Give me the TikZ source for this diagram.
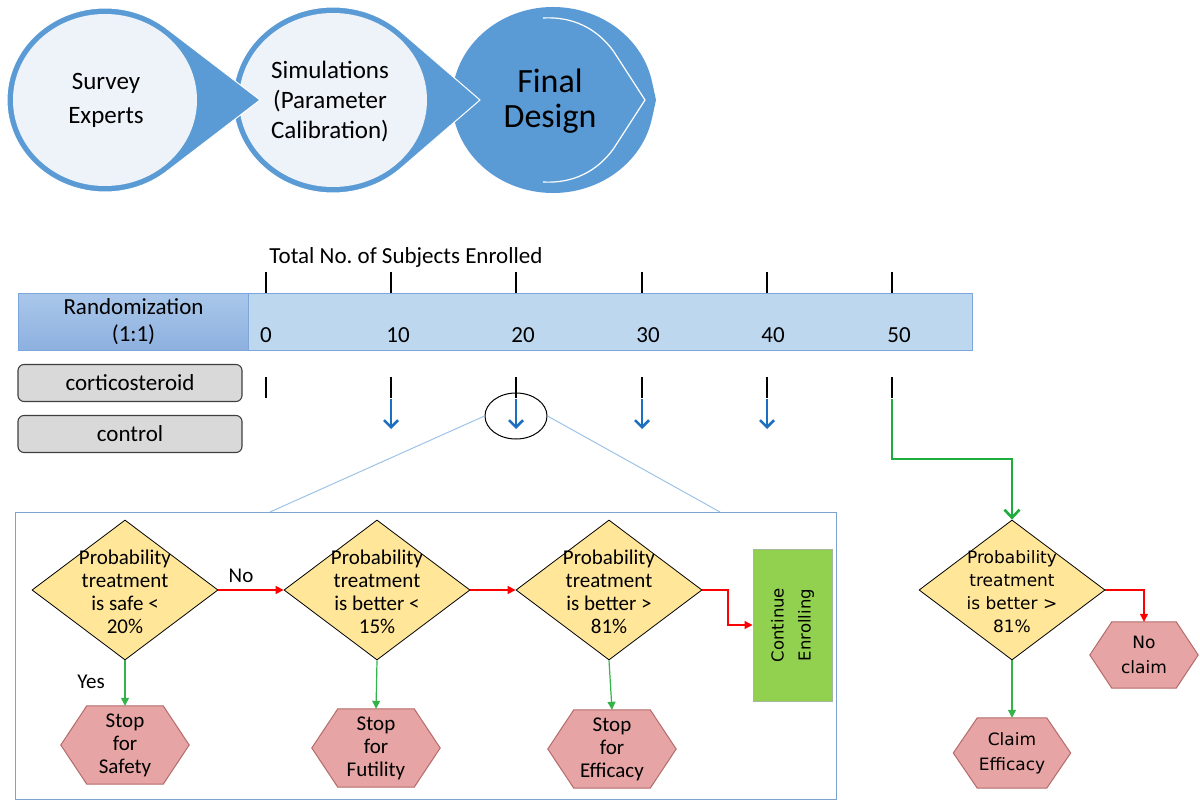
\documentclass[tikz,border=0pt]{standalone}
\usepackage{fontspec}
\setmainfont{Carlito}
\newfontfamily\dejavu{DejaVu Sans}
\usetikzlibrary{shapes.geometric,arrows.meta,calc}
\pgfdeclarelayer{background}
\pgfsetlayers{background,main}
\frenchspacing
\definecolor{tblue}{HTML}{5B9BD5}
\definecolor{tlight}{HTML}{EEF3FA}
\definecolor{barfill}{HTML}{BDD7EE}
\definecolor{barline}{HTML}{7DA7DA}
\definecolor{randtop}{HTML}{A9C7EA}
\definecolor{randbot}{HTML}{8DB0DF}
\definecolor{gbox}{HTML}{D9D9D9}
\definecolor{gline}{HTML}{3F3F3F}
\definecolor{diafill}{HTML}{FFE699}
\definecolor{hexfill}{HTML}{E6A4A4}
\definecolor{hexline}{HTML}{B46A6A}
\definecolor{contfill}{HTML}{92D050}
\definecolor{contline}{HTML}{A6B89A}
\definecolor{arrblue}{HTML}{1F6FC0}
\definecolor{dgreen}{HTML}{1EAD3C}
\definecolor{lgreen}{HTML}{35B24A}
\definecolor{lineblue}{HTML}{9DC3E6}
\definecolor{boxline}{HTML}{7FA3CF}
\newcommand\hexdraw[2]{\begin{pgfonlayer}{background}\draw[hexsty] (#1.west) -- ($(#1.north west)+(#2,0)$) -- ($(#1.north east)+(-#2,0)$) -- (#1.east) -- ($(#1.south east)+(-#2,0)$) -- ($(#1.south west)+(#2,0)$) -- cycle;\end{pgfonlayer}}
\begin{document}
\begin{tikzpicture}[x=1pt,y=-1pt,
  bigtxt/.style={font=\fontsize{25}{34}\selectfont, align=center, inner sep=0},
  simtxt/.style={font=\fontsize{25}{30}\selectfont, align=center, inner sep=0},
  fintxt/.style={font=\fontsize{34}{35}\selectfont, align=center, inner sep=0},
  lbl/.style={font=\fontsize{23}{27}\selectfont, inner sep=0},
  tick/.style={line width=1.2pt, black},
  gray box/.style={draw=gline, line width=1.1pt, fill=gbox, rounded corners=6pt, minimum width=224, minimum height=37, font=\fontsize{23}{27}\selectfont},
  dia/.style={diamond, draw=black, line width=0.8pt, fill=diafill, minimum width=186, minimum height=140, inner sep=0},
  diatxt/.style={font=\fontsize{21}{23}\selectfont, align=center, inner sep=0},
  diatxtR/.style={font=\dejavu\fontsize{17}{23}\selectfont, align=center, inner sep=0},
  hexbox/.style={minimum width=128, minimum height=78, inner sep=0, align=center, font=\fontsize{21}{23}\selectfont},
  hexboxR/.style={inner sep=0, align=center, font=\dejavu\fontsize{17}{25}\selectfont},
  hexsty/.style={draw=hexline, line width=1pt, fill=hexfill},
  redarr/.style={draw=red, line width=1.2pt, -{Triangle[length=8pt,width=8pt]}},
  grnarr/.style={draw=lgreen, line width=1.2pt, -{Triangle[length=8pt,width=8pt]}},
  bluarr/.style={draw=arrblue, line width=2.5pt, -{Straight Barb[length=7pt,width=14pt]}},
  bigarr/.style={draw=dgreen, line width=2.6pt, -{Straight Barb[length=8pt,width=15pt]}}
]
\useasboundingbox (0,0) rectangle (1200,802);

% ---------- top process shapes ----------
% shape 3
\fill[tblue] (656,100) -- ($(553,100)+(11.4:101 and 93)$) arc[start angle=11.4, end angle=348.6, x radius=101, y radius=93] -- cycle;
\draw[white, line width=1.2pt] (543,18) .. controls (580,16) and (602,35) .. (614,52) -- (645,100) -- (614,148) .. controls (602,165) and (580,184) .. (543,182);
% shape 2
\filldraw[fill=tblue, draw=white, line width=1pt] (480,100) -- ($(333,100)+(47.1:100 and 93)$) arc[start angle=47.1, end angle=312.9, x radius=100, y radius=93] -- cycle;
\fill[tlight] (333,100) ellipse [x radius=94, y radius=87];
% shape 1
\filldraw[fill=tblue, draw=white, line width=1pt] (260,100) -- ($(105,100)+(50.8:98 and 92)$) arc[start angle=50.8, end angle=309.2, x radius=98, y radius=92] -- cycle;
\fill[tlight] (105,100) ellipse [x radius=92, y radius=86];

\node[bigtxt] (s1) at (106,100) {Survey\\Experts};
\node[simtxt] (s2) at (330,102) {Simulations\\(Parameter\\Calibration)};
\node[fintxt] (s3) at (550,101) {Final\\Design};

% ---------- timeline ----------
\node[lbl] (total) at (406,257) {Total No. of Subjects Enrolled};
\node[draw=barline, line width=1pt, fill=barfill, minimum width=724, minimum height=57, anchor=north west, inner sep=0] (bar) at (248,293) {};
\node[draw=barline, line width=1pt, top color=randtop, bottom color=randbot, minimum width=230, minimum height=57, anchor=north west, inner sep=0, align=center, font=\fontsize{23}{27}\selectfont] (rand) at (18,293) {Randomization\\(1:1)};
\foreach \x in {266,391,516,642,767,892} {
  \draw[tick] (\x,272) -- (\x,293);
  \draw[tick] (\x,377) -- (\x,398);
}
\foreach \x/\n in {266/0,398/10,523/20,648/30,773/40,899/50}
  \node[lbl] (n\n) at (\x,335) {\n};

\node[gray box] (cort) at (130,383) {corticosteroid};
\node[gray box] (ctrl) at (130,434) {control};

\foreach \x in {391,516,642,767} {
  \coordinate (ba\x) at (\x,399);
  \coordinate (bb\x) at (\x,429);
  \draw[bluarr] (ba\x) -- (bb\x);
}

\node[ellipse, draw=black, line width=1pt, minimum width=62, minimum height=46, inner sep=0] (zc) at (516,416) {};

% ---------- zoomed box ----------
\node[draw=boxline, line width=1.2pt, minimum width=821, minimum height=287, anchor=north west, inner sep=0] (bigbox) at (15,512) {};
\coordinate (bl) at (270,512);
\coordinate (br) at (720,512);
\draw[lineblue, line width=1pt] (zc.west) -- (bl);
\draw[lineblue, line width=1pt] (zc.east) -- (br);

\node[dia] (d1) at (125,590) {};
\node[dia] (d2) at (377,590) {};
\node[dia] (d3) at (609,590) {};
\node[diatxt] (t1) at (125,592) {Probability\\treatment\\is safe <\\20\%};
\node[diatxt] (t2) at (377,592) {Probability\\treatment\\is better <\\15\%};
\node[diatxt] (t3) at (609,592) {Probability\\treatment\\is better >\\81\%};

\node[draw=contline, line width=1pt, fill=contfill, minimum width=79, minimum height=152, inner sep=0] (cont) at (792.5,625) {};
\node[rotate=90, align=center, font=\dejavu\fontsize{16.5}{27}\selectfont, inner sep=0] (contt) at (cont) {Continue\\Enrolling};

\node[hexbox] (h1) at (125,745) {Stop\\for\\Safety};
\node[hexbox] (h2) at (376,748) {Stop\\for\\Futility};
\node[hexbox] (h3) at (612,749) {Stop\\for\\Efficacy};
\hexdraw{h1}{26}
\hexdraw{h2}{26}
\hexdraw{h3}{26}

\draw[redarr] (d1.east) -- (d2.west);
\node[lbl, font=\fontsize{21}{23}\selectfont] (no) at (241,576) {No};
\draw[redarr] (d2.east) -- (d3.west);
\draw[redarr] (d3.east) -- (728,590) |- (cont.west);
\draw[grnarr] (d1.south) -- (h1.north);
\node[lbl, font=\fontsize{21}{23}\selectfont] (yes) at (91,682) {Yes};
\draw[grnarr] (d2.south) -- (h2.north);
\draw[grnarr] (d3.south) -- (h3.north);

% ---------- final analysis ----------
\node[dia] (d4) at (1012,590) {};
\node[diatxtR] (t4) at (1012,592) {Probability\\treatment\\is better >\\81\%};
\node[hexboxR, minimum width=108, minimum height=66] (h4) at (1144,655) {No\\claim};
\node[hexboxR, minimum width=117, minimum height=70] (h5) at (1012,753) {Claim\\Efficacy};
\hexdraw{h4}{22}
\hexdraw{h5}{24}
\draw[redarr] (d4.east) -| (h4.north);
\draw[grnarr] (d4.south) -- (h5.north);

\coordinate (g0) at (892,399);
\draw[bigarr] (g0) -- (892,459) -| (d4.north);
\end{tikzpicture}
\end{document}
